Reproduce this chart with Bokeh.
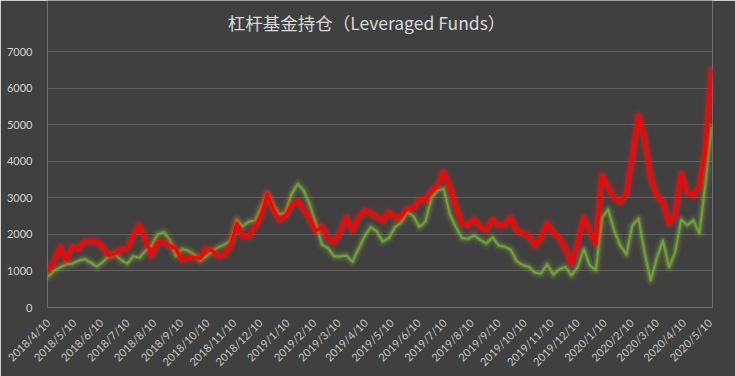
import pandas as pd
from math import pi
from bokeh.plotting import figure
from bokeh.models import Range1d, FixedTicker, Label
from bokeh.embed import file_html
from bokeh.resources import INLINE

# ---- data (weekly, from 2018/4/10) ----
start_date = "2018-04-10"
red_vals = [1000, 1250, 1650, 1300, 1650, 1600, 1800, 1800, 1800, 1650,
            1420, 1470, 1580, 1600, 1950, 2250, 1850, 1420, 1780, 1780,
            1700, 1600, 1300, 1370, 1370, 1340, 1600, 1550, 1400, 1450,
            1700, 2300, 1950, 1950, 2200, 2500, 3100, 2700, 2400, 2500,
            2800, 2900, 2700, 2430, 2100, 2200, 1900, 1780, 2050, 2450,
            2100, 2450, 2650, 2580, 2480, 2380, 2600, 2450, 2470, 2700,
            2700, 2950, 2930, 3180, 3330, 3700, 3300, 2750, 2300, 2250,
            2400, 2200, 2120, 2400, 2250, 2250, 2450, 2100, 2030, 1950,
            1700, 1900, 2300, 2050, 1900, 1600, 1200, 1750, 2450, 2100,
            1750, 3600, 3300, 3000, 2880, 3100, 4100, 5250, 4600, 3550,
            3050, 2900, 2300, 2500, 3650, 3150, 3050, 3300, 4300, 6500]
green_vals = [850, 1000, 1100, 1180, 1200, 1280, 1320, 1230, 1120, 1250,
              1400, 1450, 1300, 1200, 1400, 1360, 1550, 1700, 2000, 2060,
              1850, 1400, 1600, 1550, 1450, 1280, 1400, 1550, 1650, 1720,
              1840, 2400, 2220, 2350, 2380, 2750, 3100, 2800, 2550, 2600,
              3100, 3380, 3200, 2800, 2300, 1720, 1620, 1400, 1400, 1420,
              1250, 1600, 1950, 2200, 2080, 1800, 1900, 2200, 2330, 2600,
              2500, 2200, 2350, 3000, 3200, 3250, 2550, 2200, 1900, 1880,
              1970, 1850, 1750, 1920, 1700, 1660, 1580, 1260, 1160, 1110,
              950, 930, 1180, 900, 1050, 1110, 880, 1100, 1600, 1150,
              1020, 2450, 2680, 2100, 1700, 1450, 2250, 2430, 1500, 740,
              1350, 1830, 1100, 1500, 2400, 2250, 2380, 2030, 3400, 4930]
tick_labels = ["2018/4/10", "2018/5/10", "2018/6/10", "2018/7/10", "2018/8/10",
               "2018/9/10", "2018/10/10", "2018/11/10", "2018/12/10", "2019/1/10",
               "2019/2/10", "2019/3/10", "2019/4/10", "2019/5/10", "2019/6/10",
               "2019/7/10", "2019/8/10", "2019/9/10", "2019/10/10", "2019/11/10",
               "2019/12/10", "2020/1/10", "2020/2/10", "2020/3/10", "2020/4/10",
               "2020/5/10"]
y_ticks = [0, 1000, 2000, 3000, 4000, 5000, 6000, 7000]
title_text = "杠杆基金持仓（Leveraged Funds）"


def to_ms(ts):
    return float(pd.Timestamp(ts).value // 10**6)


dates = pd.date_range(start_date, periods=len(red_vals), freq="7D")
xs = [to_ms(d) for d in dates]
tick_ms = [to_ms(pd.to_datetime(t, format="%Y/%m/%d")) for t in tick_labels]

BG = "#404040"
week = 7 * 24 * 3600 * 1000.0
x0, x1 = xs[0] - 0.1 * week, xs[-1] + 0.15 * week

# frame runs to the top of the canvas; y=7000 sits ~51px below the top,
# the space above 7000 holds the title
FRAME_H = 307
Y_TOP = 7000 * FRAME_H / (FRAME_H - 51)

p = figure(width=735, height=376, output_backend="svg", toolbar_location=None,
           title_location=None,
           x_range=Range1d(x0, x1),
           y_range=Range1d(0, Y_TOP),
           background_fill_color=BG, border_fill_color=BG,
           min_border_left=47, min_border_right=23,
           min_border_top=0, min_border_bottom=69)
p.outline_line_color = None

# title
p.add_layout(Label(x=x0 + 0.4797 * (x1 - x0),
                   y=7000 + (51 - 22) * Y_TOP / FRAME_H,
                   text=title_text,
                   text_align="center", text_baseline="middle",
                   text_color="#d9d9d9", text_font="Noto Sans CJK SC",
                   text_font_size="17.5px"))

# green with glow
for w, a in [(11, 0.08), (7, 0.14), (4.5, 0.22)]:
    p.line(xs, green_vals, line_color="#86b23a", line_width=w, line_alpha=a,
           line_join="round", line_cap="round")
p.line(xs, green_vals, line_color="#6fa03a", line_width=2.2, line_join="round")

# red with glow
for w, a in [(13, 0.09), (9, 0.15), (6, 0.25)]:
    p.line(xs, red_vals, line_color="#ff1a1a", line_width=w, line_alpha=a,
           line_join="round", line_cap="round")
p.line(xs, red_vals, line_color="#ff0000", line_width=3.2, line_join="round")

# axes
p.xaxis.ticker = FixedTicker(ticks=tick_ms)
p.xaxis.major_label_overrides = {m: t for m, t in zip(tick_ms, tick_labels)}
p.xaxis.major_label_orientation = pi / 4
p.yaxis.ticker = FixedTicker(ticks=y_ticks)
for ax in (p.xaxis, p.yaxis):
    ax.axis_line_color = None
    ax.major_tick_line_color = None
    ax.minor_tick_line_color = None
    ax.major_label_text_font = "Lato"
    ax.major_label_text_font_size = "11px"
p.xaxis.major_label_text_color = "#c4c4c4"
p.yaxis.major_label_text_color = "#d4d4d4"
p.xaxis.major_label_standoff = 7
p.yaxis.major_label_standoff = 9

p.xgrid.grid_line_color = None
p.ygrid.grid_line_color = "#5e5e5e"
p.ygrid.grid_line_width = 1

open("out.html", "w").write(file_html(p, INLINE))
